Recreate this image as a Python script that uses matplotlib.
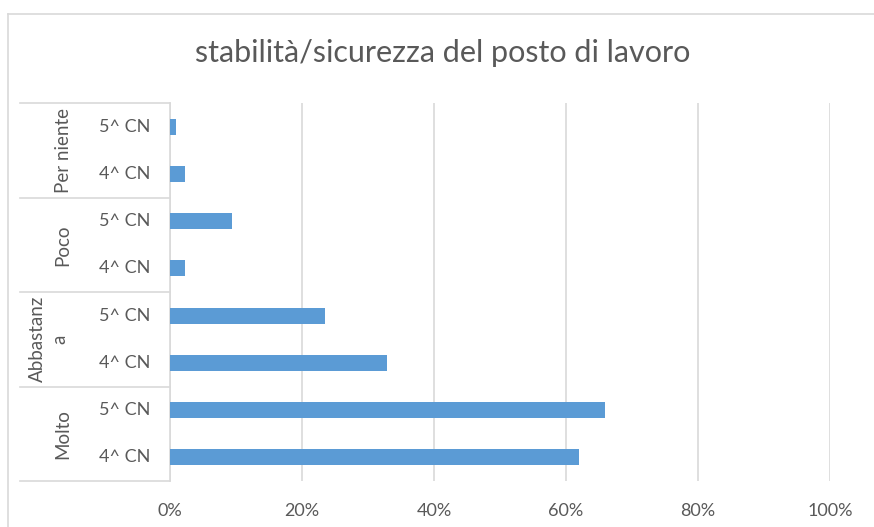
import numpy as np
import matplotlib.pyplot as plt
import matplotlib.transforms as mtransforms
from matplotlib.lines import Line2D

# dati (dal basso verso l'alto, come in Excel)
groups = ['Molto', 'Abbastanza', 'Poco', 'Per niente']
group_labels = ['Molto', 'Abbastanz\na', 'Poco', 'Per niente']
classes = ['4^ CN', '5^ CN']
values = [0.620, 0.659,   # Molto
          0.329, 0.235,   # Abbastanza
          0.023, 0.094,   # Poco
          0.023, 0.009]   # Per niente
xticks = [0, 0.2, 0.4, 0.6, 0.8, 1.0]
xticklabels = ['0%', '20%', '40%', '60%', '80%', '100%']
title = 'stabilità/sicurezza del posto di lavoro'

plt.rcParams['font.family'] = ['Lato', 'DejaVu Sans']
txt_col = '#595959'
grid_col = '#D9D9D9'

W, H = 874, 527
fig = plt.figure(figsize=(W / 100, H / 100), dpi=100)
ax = fig.add_axes([170 / W, 1 - 481 / H, 660 / W, 378 / H])

y = np.arange(len(values))
ax.barh(y, values, height=0.34, color='#5B9BD5', zorder=3)
ax.set_xlim(0, 1)
ax.set_ylim(-0.5, len(values) - 0.5)

ax.set_xticks(xticks)
ax.set_xticklabels(xticklabels, color=txt_col, fontsize=13)
ax.tick_params(axis='x', length=0, pad=16)
ax.set_yticks([])
ax.grid(axis='x', color=grid_col, lw=1.2, zorder=0)
for s in ['top', 'right', 'bottom']:
    ax.spines[s].set_visible(False)
ax.spines['left'].set_color(grid_col)
ax.spines['left'].set_linewidth(1.2)

# etichette multilivello
tr = mtransforms.blended_transform_factory(ax.transAxes, ax.transData)
for i, v in enumerate(values):
    ax.text(-0.03, i, classes[i % 2], transform=tr, ha='right', va='center',
            color=txt_col, fontsize=13)
for g, lab in enumerate(group_labels):
    gx = -0.184 if '\n' in lab else -0.162
    ax.text(gx, 2 * g + 0.5, lab, transform=tr, ha='center', va='center',
            rotation=90, color=txt_col, fontsize=13.5, linespacing=1.4)
for k in range(len(groups) + 1):
    ax.add_line(Line2D([-0.227, 0], [2 * k - 0.5, 2 * k - 0.5], transform=tr,
                       color=grid_col, lw=1.2, clip_on=False))

# bordo del grafico
fig.add_artist(Line2D([8 / W, 8 / W], [0, 1 - 14 / H], color=grid_col, lw=1.2))
fig.add_artist(Line2D([8 / W, 1], [1 - 14 / H, 1 - 14 / H], color=grid_col, lw=1.2))

fig.text(443 / W, 1 - 53 / H, title, ha='center', va='center',
         color=txt_col, fontsize=22)

fig.savefig('out.png', dpi=100)
